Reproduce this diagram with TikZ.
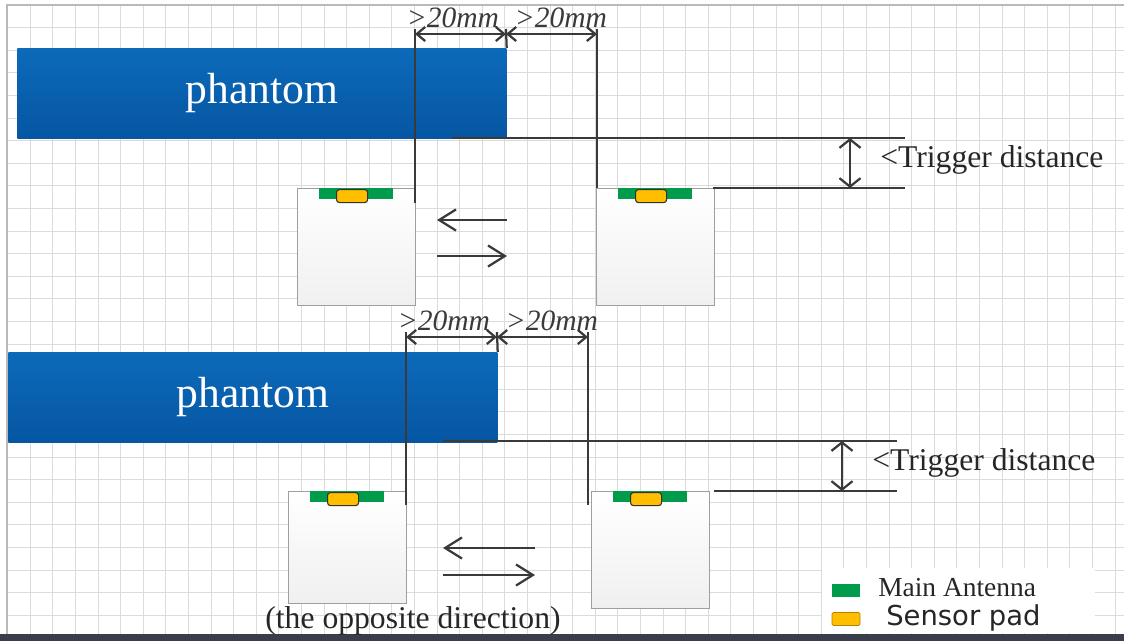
\documentclass[tikz,border=0pt]{standalone}
\usepackage{fontspec}
\setmainfont{Liberation Serif}
\newfontfamily\legendsans{DejaVu Sans}
\usetikzlibrary{arrows.meta,positioning}

\definecolor{phantomTop}{RGB}{12,106,186}
\definecolor{phantomBot}{RGB}{6,86,162}
\definecolor{antGreen}{RGB}{0,155,75}
\definecolor{padOrange}{RGB}{255,190,0}
\definecolor{dimGrey}{RGB}{58,58,58}
\definecolor{barSlate}{RGB}{58,62,74}

\begin{document}
\begin{tikzpicture}[x=0.025cm, y=-0.025cm]
  \tikzstyle{gridline} = [gray!28, line width=0.5pt]
  \tikzstyle{phantomBox} = [rectangle, inner sep=0pt, top color=phantomTop, bottom color=phantomBot, minimum width=12.225cm, minimum height=2.25cm, text=white, font=\fontsize{31}{32}\selectfont]
  \tikzstyle{device} = [rectangle, draw=gray!75, line width=0.9pt, top color=white, bottom color=gray!12, minimum width=2.95cm, minimum height=2.925cm, inner sep=0pt]
  \tikzstyle{antenna} = [rectangle, fill=antGreen, minimum width=1.85cm, minimum height=0.275cm, inner sep=0pt]
  \tikzstyle{pad} = [rectangle, rounded corners=2pt, draw=black!80, line width=0.8pt, fill=padOrange, minimum width=0.775cm, minimum height=0.325cm, inner sep=0pt]
  \tikzstyle{dimline} = [dimGrey, line width=1.6pt]
  \tikzstyle{dimarrow} = [dimline, {Straight Barb[length=6pt,width=10pt]}-{Straight Barb[length=6pt,width=10pt]}]
  \tikzstyle{trigarrow} = [dimline, {Straight Barb[length=6pt,width=15pt]}-{Straight Barb[length=6pt,width=15pt]}]
  \tikzstyle{movearrow} = [dimline, -{Straight Barb[length=12pt,width=15pt]}]
  \tikzstyle{dimlabel} = [anchor=base, inner sep=0pt, text=dimGrey, font=\fontsize{21}{22}\selectfont\itshape]
  \tikzstyle{trigLabel} = [anchor=west, inner sep=0pt, text=black!85, font=\fontsize{22.5}{24}\selectfont]

  \useasboundingbox (0,0) rectangle (1124,641);

  % Draw background grid
  \foreach \gx in {7.5,30.1,...,1124}
    \draw[gridline] (\gx,5) -- (\gx,634);
  \foreach \gy in {5,27.6,...,634}
    \draw[gridline] (7.5,\gy) -- (1124,\gy);
  \draw[gray!55, line width=0.8pt] (1124,5) -- (7,5) -- (7,634);
  \fill[barSlate] (0,634) rectangle (1124,641);

  % Draw phantoms
  \foreach \i/\x/\y in {1/17/48, 2/8/352}
    \node[phantomBox, anchor=north west] (phantom-\i) at (\x,\y) {phantom};

  % Draw devices
  \foreach \d/\x/\y/\h in {A/297/188/2.925, B/596/188/2.925, C/288/491/2.8, D/591/491/2.925}
    {
    \node[device, anchor=north west, minimum height=\h cm] (dev-\d) at (\x,\y) {};
    \node[antenna, anchor=north west] (ant-\d) at (\x+22,\y) {};
    \node[pad, anchor=north west] (pad-\d) at (\x+39,\y+1) {};
    }

  % Dimension lines
  \foreach \i/\l/\m/\r/\dy/\lb/\rb in {1/415/506/597/34/203/188, 2/406/497/588/337/505/505}
    {
    \coordinate (topL-\i) at (\l,\dy-5);
    \coordinate (botL-\i) at (\l,\lb);
    \coordinate (topR-\i) at (\r,\dy-5);
    \coordinate (botR-\i) at (\r,\rb);
    \coordinate (topM-\i) at (\m,\dy-5);
    \coordinate (dimL-\i) at (\l,\dy);
    \coordinate (dimM-\i) at (\m,\dy);
    \coordinate (dimR-\i) at (\r,\dy);
    \draw[dimline] (topL-\i) -- (botL-\i);
    \draw[dimline] (topR-\i) -- (botR-\i);
    \draw[dimline] (topM-\i) -- (phantom-\i.north east);
    \draw[dimarrow] (dimL-\i) -- (dimM-\i);
    \draw[dimarrow] (dimM-\i) -- (dimR-\i);
    \node[dimlabel] (gapL-\i) at (\l+38,\dy-7) {>20mm};
    \node[dimlabel] (gapR-\i) at (\m+55,\dy-7) {>20mm};
    }

  % Trigger distance
  \foreach \i/\tx/\ty/\bx/\ax/\ex in {1/452/138/713/850/905, 2/443/441/714/842/897}
    {
    \coordinate (trigA-\i) at (\tx,\ty);
    \coordinate (trigB-\i) at (\ex,\ty);
    \coordinate (trigC-\i) at (\bx,\ty+50);
    \coordinate (trigD-\i) at (\ex,\ty+50);
    \coordinate (trigUp-\i) at (\ax,\ty);
    \coordinate (trigDn-\i) at (\ax,\ty+50);
    \draw[dimline] (trigA-\i) -- (trigB-\i);
    \draw[dimline] (trigC-\i) -- (trigD-\i);
    \draw[trigarrow] (trigUp-\i) -- (trigDn-\i);
    \node[trigLabel] (trig-\i) at (\ax+30,\ty+22) {<Trigger distance};
    }

  % Movement arrows
  \foreach \i/\a/\b/\ya/\yb in {1/437/507/220/256, 2/443/535/548/575}
    {
    \coordinate (moveL-\i) at (\a,\ya);
    \coordinate (moveR-\i) at (\b,\ya);
    \coordinate (backL-\i) at (\a,\yb);
    \coordinate (backR-\i) at (\b,\yb);
    \draw[movearrow] (moveR-\i) -- (moveL-\i);
    \draw[movearrow] (backL-\i) -- (backR-\i);
    }

  \node[inner sep=0pt, text=black!85, font=\fontsize{22.5}{24}\selectfont] (opposite) at (413,621) {(the opposite direction)};

  % Legend
  \fill[white] (822,568) rectangle (1095,633);
  \node[antenna, minimum width=0.7cm, minimum height=0.325cm] (keyAnt) at (846,590) {};
  \node[pad, rounded corners=1pt, draw=padOrange!70!black, line width=0.5pt, minimum width=0.7cm] (keyPad) at (846,619) {};
  \node[anchor=west, inner sep=0pt, text=black!85, font=\fontsize{19.5}{21}\selectfont] (keyAntText) at (878,588) {Main Antenna};
  \node[anchor=west, inner sep=0pt, text=black!85, font=\legendsans\fontsize{19.5}{21}\selectfont] (keyPadText) at (886,618) {Sensor pad};

\end{tikzpicture}
\end{document}
